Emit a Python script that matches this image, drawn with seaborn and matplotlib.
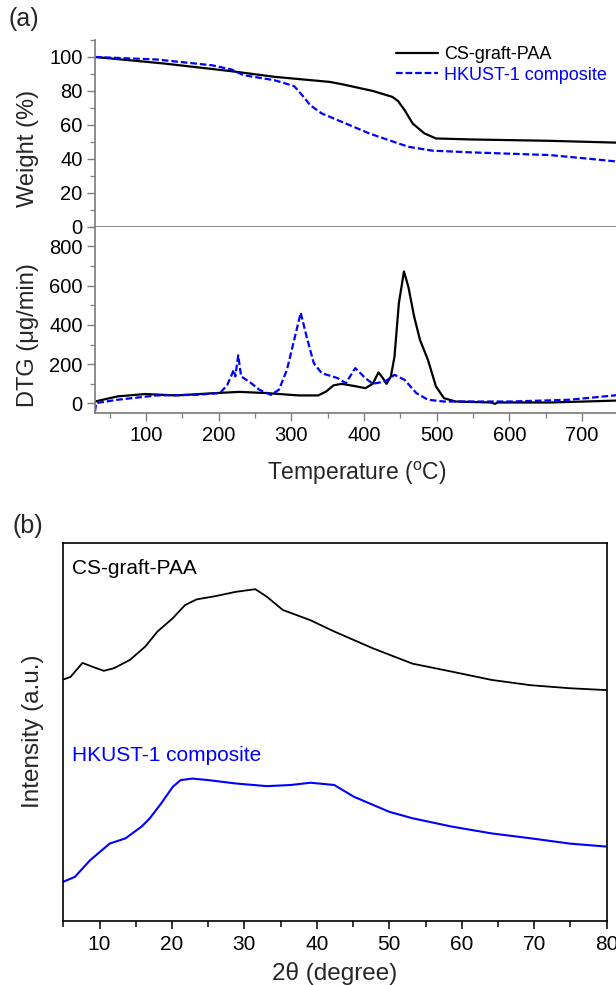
import seaborn as sns
import matplotlib.pyplot as plt
from matplotlib.ticker import MultipleLocator

# TGA weight curves (temperature in degC, weight in %)
tga_temp_cs = [30, 126, 218, 277, 353, 369, 412, 439, 447, 456, 467, 483, 499, 547, 656, 750]
tga_wt_cs = [100, 96.1, 91.6, 88.3, 85.3, 84, 80, 76.5, 74, 68.6, 60.8, 55, 52, 51.4, 50.6, 49.5]
tga_temp_hk = [30, 115, 191, 218, 234, 277, 304, 315, 326, 342, 375, 407, 434, 461, 494, 547, 656, 720, 750]
tga_wt_hk = [100, 98.5, 95.1, 92.6, 89.3, 86.3, 82.8, 77.5, 71.6, 66.7, 60.8, 55, 51, 47.1, 44.8, 43.8, 42.2, 39.6, 38.3]

# DTG curves (ug/min)
dtg_temp_cs = [30, 61, 99, 142, 196, 229, 266, 310, 337, 348, 358, 369, 385, 402, 412, 420, 426,
               431, 437, 442, 448, 455, 461, 469, 477, 488, 499, 510, 526, 575, 580, 584, 656, 750]
dtg_val_cs = [10, 36, 48, 41, 53, 59, 53, 41, 41, 61, 92, 100, 90, 78, 100, 158, 129,
              100, 137, 239, 510, 672, 595, 443, 324, 222, 87, 27, 10, 5, -2, 5, 5, 15]
dtg_temp_hk = [30, 31.5, 61, 115, 169, 202, 212, 221, 223, 227, 231, 245, 256, 272, 283, 294, 304,
               313, 321, 331, 342, 364, 375, 388, 402, 412, 429, 442, 456, 472, 488, 510, 602, 683, 750]
dtg_val_hk = [-40, 2, 19, 41, 44, 53, 95, 171, 138, 245, 138, 103, 70, 44, 70, 171, 324,
              462, 341, 205, 154, 129, 103, 180, 129, 100, 112, 146, 120, 53, 19, 10, 10, 19, 43]

# XRD patterns (2theta in degree, intensity in a.u.)
xrd_2t_cs = [5, 6, 7.65, 9, 10.6, 12, 14.2, 16.3, 18, 20.1, 21.8, 23.4, 26.1, 28.8, 31.5, 33.1,
             35.3, 39.1, 42.4, 47.8, 53.2, 58.6, 64.1, 69.5, 74.9, 80]
xrd_int_cs = [63.8, 64.5, 68.2, 67.2, 66.1, 66.8, 69, 72.5, 76.5, 80, 83.5, 85, 85.9, 87, 87.7, 85.7,
              82.2, 79.5, 76.5, 72, 68, 65.9, 63.7, 62.3, 61.5, 61]
xrd_2t_hk = [5, 6.6, 8.7, 11.4, 13.6, 15.8, 16.9, 18.5, 20.1, 21.2, 22.8, 25, 28.8, 33.1, 36.4,
             39.1, 42.4, 45.1, 50, 53.2, 58.6, 64.1, 69.5, 74.9, 80]
xrd_int_hk = [10.3, 11.6, 16, 20.4, 21.8, 24.9, 27, 31, 35.4, 37.2, 37.6, 37.2, 36.3, 35.6, 35.9,
              36.5, 35.9, 32.8, 28.8, 27.1, 24.9, 23.1, 21.8, 20.4, 19.6]

labels = ["CS-graft-PAA", "HKUST-1 composite"]

sns.set_theme(style="ticks")
plt.rcParams["font.family"] = ["Liberation Sans", "DejaVu Sans"]
plt.rcParams["mathtext.fontset"] = "custom"
plt.rcParams["mathtext.rm"] = "Liberation Sans"

W, H = 616, 985
fig = plt.figure(figsize=(W / 100, H / 100), dpi=100)


def frac(l, t, r, b):
    return [l / W, 1 - b / H, (r - l) / W, (b - t) / H]


ax_w = fig.add_axes(frac(95, 40, 618.4, 226.7))
ax_d = fig.add_axes(frac(95, 226.7, 618.4, 413.3))
ax_x = fig.add_axes(frac(63.3, 542.7, 606.7, 920.7))

grey = "#7f7f7f"
blue = "#0000ff"
dash = (0, (3, 1.3))

# (a) weight
sns.lineplot(x=tga_temp_cs, y=tga_wt_cs, ax=ax_w, color="black", lw=1.6, label=labels[0])
sns.lineplot(x=tga_temp_hk, y=tga_wt_hk, ax=ax_w, color=blue, lw=1.6, ls=dash, label=labels[1])
ax_w.set_xlim(30, 750)
ax_w.set_ylim(0, 110)
ax_w.yaxis.set_major_locator(MultipleLocator(20))
ax_w.yaxis.set_minor_locator(MultipleLocator(10))
ax_w.set_xticks([])
ax_w.legend(loc="upper left", bbox_to_anchor=(396 / W, 1 - 46 / H), bbox_transform=fig.transFigure,
            frameon=False, fontsize=13, handlelength=2.3, handletextpad=0.35, labelspacing=0.2,
            borderpad=0, borderaxespad=0, labelcolor="linecolor")

# DTG
sns.lineplot(x=dtg_temp_cs, y=dtg_val_cs, ax=ax_d, color="black", lw=1.6)
sns.lineplot(x=dtg_temp_hk, y=dtg_val_hk, ax=ax_d, color=blue, lw=1.6, ls=dash)
ax_d.set_xlim(30, 750)
ax_d.set_ylim(-50, 900)
ax_d.yaxis.set_minor_locator(MultipleLocator(100))
ax_d.set_yticks([0, 200, 400, 600, 800])
ax_d.xaxis.set_minor_locator(MultipleLocator(50))
ax_d.set_xticks([100, 200, 300, 400, 500, 600, 700])
ax_d.set_xlabel(r"Temperature ($\mathregular{^o}$C)", fontsize=16.5, labelpad=11)

for ax in (ax_w, ax_d):
    ax.set_ylabel("")
    for side in ("top", "right"):
        ax.spines[side].set_visible(False)
    ax.spines["left"].set_color(grey)
    ax.spines["bottom"].set_color(grey)
    ax.tick_params(which="both", direction="out", colors=grey, labelcolor="black", labelsize=14.5)
    ax.tick_params(which="major", length=6, width=1, pad=3)
    ax.tick_params(which="minor", length=3.5, width=0.9)

fig.text(28 / W, 1 - 148 / H, "Weight (%)", rotation=90, ha="center", va="center", fontsize=17)
fig.text(28 / W, 1 - 335 / H, "DTG (\u03bcg/min)", rotation=90, ha="center", va="center", fontsize=17)
fig.text(8 / W, 1 - 19 / H, "(a)", ha="left", va="center", fontsize=18)

# (b) XRD
sns.lineplot(x=xrd_2t_cs, y=xrd_int_cs, ax=ax_x, color="black", lw=1.3)
sns.lineplot(x=xrd_2t_hk, y=xrd_int_hk, ax=ax_x, color=blue, lw=1.5)
ax_x.set_xlim(5, 80)
ax_x.set_ylim(0, 100)
ax_x.set_yticks([])
ax_x.xaxis.set_minor_locator(MultipleLocator(5))
ax_x.set_xticks([10, 20, 30, 40, 50, 60, 70, 80])
ax_x.tick_params(which="both", direction="out", colors="black", labelsize=15)
ax_x.tick_params(which="major", length=6, width=1.1, pad=4)
ax_x.tick_params(which="minor", length=4, width=1.1)
for side in ax_x.spines.values():
    side.set_color("black")
    side.set_linewidth(1.2)
ax_x.set_xlabel("2\u03b8 (degree)", fontsize=17.5, labelpad=6)
ax_x.set_ylabel("Intensity (a.u.)", fontsize=17.5, labelpad=14)
ax_x.text(6.2, 93.3, labels[0], color="black", fontsize=15, va="center")
ax_x.text(6.2, 43.8, labels[1], color=blue, fontsize=15, va="center")
fig.text(12 / W, 1 - 526 / H, "(b)", ha="left", va="center", fontsize=18)

fig.savefig("out.png", dpi=100)
